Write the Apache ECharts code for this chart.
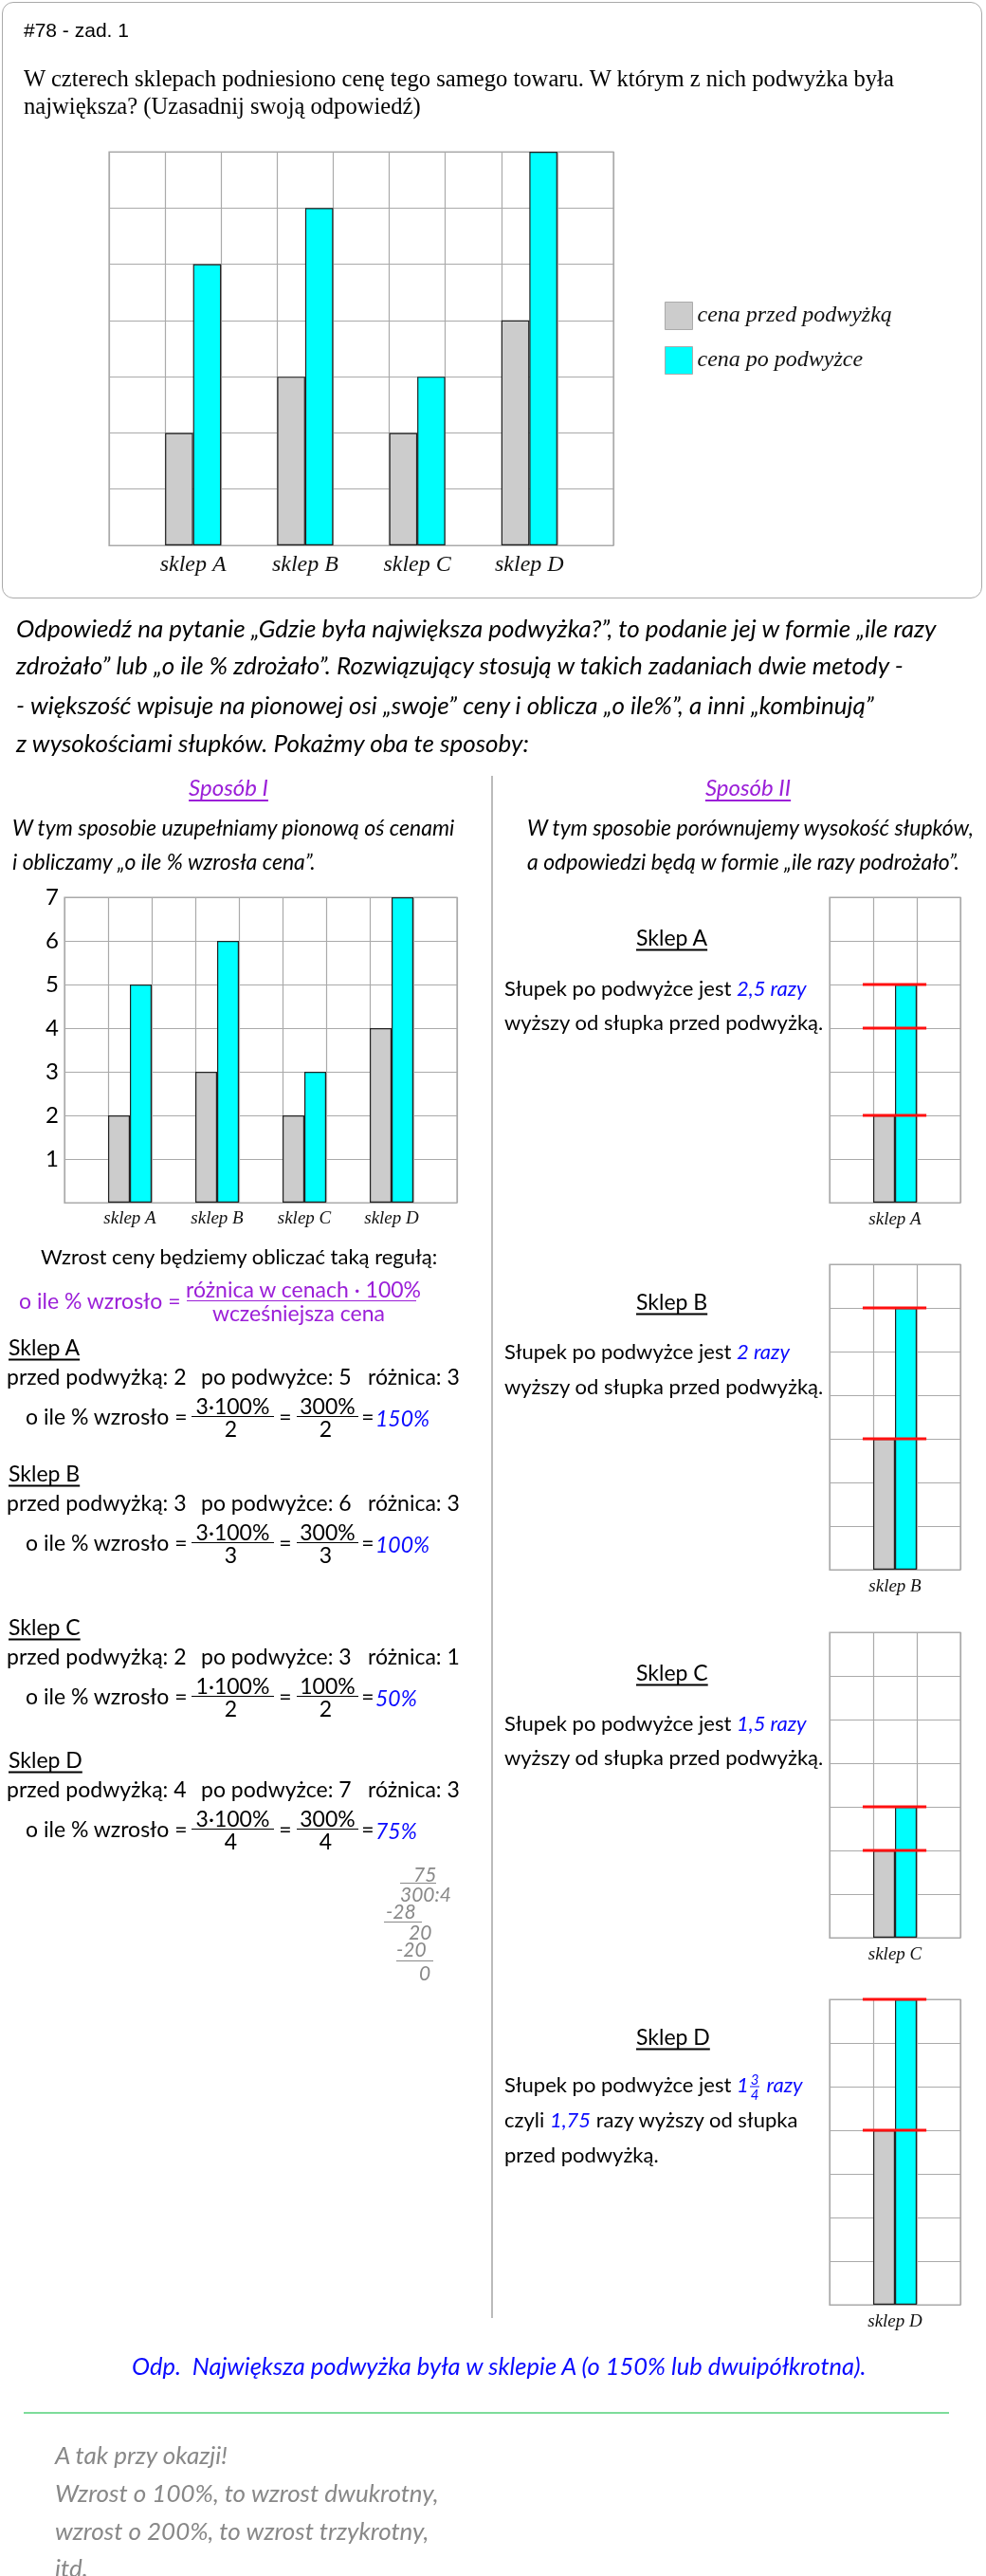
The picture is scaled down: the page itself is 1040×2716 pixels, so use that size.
<!DOCTYPE html>
<html lang="pl">
<head>
<meta charset="utf-8">
<title>#78 - zad. 1</title>
<script src="https://cdn.jsdelivr.net/npm/echarts@6/dist/echarts.min.js"></script>
<style>
  body { margin: 0; background: #fff; }
  .page { position: relative; width: 1040px; height: 2716px; overflow: hidden; }
  #chart { position: absolute; left: 0; top: 0; width: 1040px; height: 2716px; }
  .box { position: absolute; left: 2px; top: 2px; width: 1032px; height: 627px; border: 1.5px solid #aaa; border-radius: 12px; }
  .t { position: absolute; white-space: nowrap; line-height: 1; transform: translateY(-50%); }
  .c { transform: translate(-50%, -50%); }
  .hw { font-family: Lato, 'Noto Sans', sans-serif; font-size: 23px; color: #000; }
  .sm { font-size: 22px; }
  .big { font-size: 26px; }
  .it { font-style: italic; }
  .u { text-decoration: underline; text-underline-offset: 4px; text-decoration-thickness: 1.5px; }
  .blue { color: #0a0aff; }
  .purple { color: #9b1fd8; }
  .gray { color: #888; }
  .div { font-size: 21px; }
  .serif { font-family: 'Liberation Serif', 'Times New Roman', serif; font-size: 24.6px; color: #000; }
  .sans { font-family: 'Liberation Sans', Arial, sans-serif; font-size: 21px; color: #000; }
  .hr { position: absolute; height: 0; border-top: 1.5px solid #000; }
  .vline { position: absolute; left: 518px; top: 818px; width: 0; height: 1626px; border-left: 2px solid #bbb; }
  .green { position: absolute; left: 25px; top: 2543px; width: 976px; height: 0; border-top: 2px solid #7ddc9a; }
  .mf { display: inline-flex; flex-direction: column; align-items: center; font-size: 15px; vertical-align: middle; line-height: 1; margin: 0 2px 0 1px; }
  .mf span:first-child { border-bottom: 1.5px solid #0a0aff; padding: 0 1px; }
</style>
</head>
<body>
<div class="page">
  <div class="box"></div>
  <div id="chart"></div>
  <div id="texts">
    <div class="t sans" style="left:25px;top:31px">#78 - zad. 1</div>
    <div class="t serif" style="left:25px;top:83px">W czterech sklepach podniesiono cenę tego samego towaru. W którym z nich podwyżka była</div>
    <div class="t serif" style="left:25px;top:112px">największa? (Uzasadnij swoją odpowiedź)</div>

    <div class="t hw it big" style="left:17px;top:662px">Odpowiedź na pytanie „Gdzie była największa podwyżka?”, to podanie jej w formie „ile razy</div>
    <div class="t hw it big" style="left:17px;top:701px">zdrożało” lub „o ile % zdrożało”. Rozwiązujący stosują w takich zadaniach dwie metody -</div>
    <div class="t hw it big" style="left:17px;top:743px">- większość wpisuje na pionowej osi „swoje” ceny i oblicza „o ile%”, a inni „kombinują”</div>
    <div class="t hw it big" style="left:17px;top:783px">z wysokościami słupków. Pokażmy oba te sposoby:</div>

    <div class="vline"></div>
    <div class="t c hw it u purple" style="left:241px;top:830px;font-size:24px">Sposób I</div>
    <div class="t c hw it u purple" style="left:789px;top:830px;font-size:24px">Sposób II</div>

    <div class="t hw it" style="left:13px;top:872px">W tym sposobie uzupełniamy pionową oś cenami</div>
    <div class="t hw it" style="left:13px;top:908px">i obliczamy „o ile % wzrosła cena”.</div>
    <div class="t hw it" style="left:556px;top:872px">W tym sposobie porównujemy wysokość słupków,</div>
    <div class="t hw it" style="left:556px;top:908px">a odpowiedzi będą w formie „ile razy podrożało”.</div>

    <div class="t hw sm" style="left:43px;top:1325px">Wzrost ceny będziemy obliczać taką regułą:</div>
    <div class="t hw purple" style="left:20px;top:1371px">o ile % wzrosło =</div>
    <div class="t c hw purple" style="left:320px;top:1359px">różnica w cenach · 100%</div>
    <div class="hr" style="left:197px;top:1371px;width:242px;border-color:#9b1fd8"></div>
    <div class="t c hw purple" style="left:315px;top:1384px">wcześniejsza cena</div>

    <div class="t hw gray it div" style="left:436px;top:1975px">75</div>
    <div class="hr" style="left:422px;top:1985px;width:38px;border-color:#888"></div>
    <div class="t hw gray it div" style="left:422px;top:1996px">300:4</div>
    <div class="t hw gray it div" style="left:407px;top:2014px">-28</div>
    <div class="hr" style="left:405px;top:2026px;width:40px;border-color:#888"></div>
    <div class="t hw gray it div" style="left:431px;top:2036px">20</div>
    <div class="t hw gray it div" style="left:418px;top:2054px">-20</div>
    <div class="hr" style="left:418px;top:2067px;width:39px;border-color:#888"></div>
    <div class="t c hw gray it div" style="left:448px;top:2079px">0</div>

    <div class="t hw u" style="left:671px;top:988px">Sklep A</div>
    <div class="t hw sm" style="left:532px;top:1042px">Słupek po podwyżce jest <span class="blue it">2,5 razy</span></div>
    <div class="t hw sm" style="left:532px;top:1078px">wyższy od słupka przed podwyżką.</div>

    <div class="t hw u" style="left:671px;top:1372px">Sklep B</div>
    <div class="t hw sm" style="left:532px;top:1425px">Słupek po podwyżce jest <span class="blue it">2 razy</span></div>
    <div class="t hw sm" style="left:532px;top:1462px">wyższy od słupka przed podwyżką.</div>

    <div class="t hw u" style="left:671px;top:1763px">Sklep C</div>
    <div class="t hw sm" style="left:532px;top:1817px">Słupek po podwyżce jest <span class="blue it">1,5 razy</span></div>
    <div class="t hw sm" style="left:532px;top:1853px">wyższy od słupka przed podwyżką.</div>

    <div class="t hw u" style="left:671px;top:2147px">Sklep D</div>
    <div class="t hw sm" style="left:532px;top:2200px">Słupek po podwyżce jest <span class="blue it">1<span class="mf"><span>3</span><span>4</span></span> razy</span></div>
    <div class="t hw sm" style="left:532px;top:2235px">czyli <span class="blue it">1,75</span> razy wyższy od słupka</div>
    <div class="t hw sm" style="left:532px;top:2272px">przed podwyżką.</div>

    <div class="t hw it blue" style="left:139px;top:2495px;font-size:25.5px">Odp.&nbsp; Największa podwyżka była w sklepie A (o 150% lub dwuipółkrotna).</div>
    <div class="green"></div>
    <div class="t hw it gray big" style="left:58px;top:2588px">A tak przy okazji!</div>
    <div class="t hw it gray big" style="left:58px;top:2628px">Wzrost o 100%, to wzrost dwukrotny,</div>
    <div class="t hw it gray big" style="left:58px;top:2668px">wzrost o 200%, to wzrost trzykrotny,</div>
    <div class="t hw it gray big" style="left:58px;top:2707px">itd.</div>
  </div>
</div>

<script>
// data
const shops = ['sklep A', 'sklep B', 'sklep C', 'sklep D'];
const before = [2, 3, 2, 4];
const after = [5, 6, 3, 7];
const redMarks = [[2, 4, 5], [3, 6], [2, 3], [4, 7]];
const yLabels = ['', '1', '2', '3', '4', '5', '6', '7'];

const S_BEFORE = 'cena przed podwyżką';
const S_AFTER = 'cena po podwyżce';
const SERIF = "'Liberation Serif', 'Times New Roman', serif";
const HAND = "Lato, 'Noto Sans', sans-serif";
const GRID_COLOR = '#aaaaaa';

// layout of the six plots: top task chart, Sposób I chart, four small charts
const plots = [
  { left: 115, top: 160, width: 532, height: 415, font: 24, margin: 9, yLabels: false },
  { left: 68, top: 946, width: 414, height: 322, font: 19, margin: 7, yLabels: true },
  { left: 875, top: 946, width: 138, height: 322, font: 19, margin: 8, shop: 0 },
  { left: 875, top: 1333, width: 138, height: 322, font: 19, margin: 8, shop: 1 },
  { left: 875, top: 1721, width: 138, height: 322, font: 19, margin: 8, shop: 2 },
  { left: 875, top: 2108, width: 138, height: 322, font: 19, margin: 8, shop: 3 }
];

// every shop sits in every second column of the squared grid
const wideSlots = shops.flatMap(s => ['', s]).concat(['']);
const pad = arr => arr.flatMap(v => [null, v]).concat([null]);

const grid = [], xAxis = [], yAxis = [], series = [];

plots.forEach((p, g) => {
  const single = p.shop !== undefined;
  const slots = single ? ['', shops[p.shop], ''] : wideSlots;
  const bData = single ? [null, before[p.shop], null] : pad(before);
  const aData = single ? [null, after[p.shop], null] : pad(after);

  grid.push({ left: p.left, top: p.top, width: p.width, height: p.height,
    show: true, borderColor: GRID_COLOR, borderWidth: 1.2, containLabel: false });

  xAxis.push({
    type: 'category', gridIndex: g, data: slots, boundaryGap: true,
    axisLine: { lineStyle: { color: GRID_COLOR, width: 1.2 } },
    axisTick: { show: false },
    splitLine: { show: true, interval: 0, lineStyle: { color: GRID_COLOR, width: 1.2 } },
    axisLabel: { interval: 0, margin: p.margin, color: '#111',
      fontFamily: SERIF, fontStyle: 'italic', fontSize: p.font }
  });

  yAxis.push({
    type: 'value', gridIndex: g, min: 0, max: 7, interval: 1,
    axisLine: { show: false }, axisTick: { show: false },
    splitLine: { show: true, lineStyle: { color: GRID_COLOR, width: 1.2 } },
    axisLabel: { show: !!p.yLabels, margin: 6, color: '#000',
      fontFamily: HAND, fontSize: 24, formatter: v => yLabels[v] || '' }
  });

  const barStyle = color => ({ color: color, borderColor: '#222', borderWidth: 1.2 });
  series.push({
    name: S_BEFORE, type: 'bar', xAxisIndex: g, yAxisIndex: g, data: bData,
    barGap: '0%', barCategoryGap: '0%', itemStyle: barStyle('#cccccc')
  });
  series.push({
    name: S_AFTER, type: 'bar', xAxisIndex: g, yAxisIndex: g, data: aData,
    barGap: '0%', barCategoryGap: '0%', itemStyle: barStyle('#00ffff')
  });

  if (single) {
    series.push({
      name: 'porównanie', type: 'custom', xAxisIndex: g, yAxisIndex: g, z: 5,
      data: redMarks[p.shop].map(v => [shops[p.shop], v]),
      renderItem: (params, api) => {
        const c = api.coord([api.value(0), api.value(1)]);
        const w = api.size([1, 0])[0];
        return {
          type: 'line',
          shape: { x1: c[0] - 0.74 * w, y1: c[1], x2: c[0] + 0.72 * w, y2: c[1] },
          style: { stroke: '#ff1010', lineWidth: 3 }
        };
      }
    });
  }
});

const chart = echarts.init(document.getElementById('chart'), null, { renderer: 'canvas' });
chart.setOption({
  animation: false,
  grid, xAxis, yAxis, series,
  legend: {
    data: [S_BEFORE, S_AFTER], selectedMode: false,
    orient: 'vertical', left: 696, top: 313,
    icon: 'rect', itemWidth: 29, itemHeight: 29, itemGap: 17,
    itemStyle: { borderColor: '#aaa', borderWidth: 1 },
    textStyle: { fontFamily: SERIF, fontStyle: 'italic', fontSize: 24, color: '#111' }
  }
});

// calculations of Sposób I, built from the same numbers
const texts = document.getElementById('texts');
const add = (s, x, y, cls, center) => {
  const d = document.createElement('div');
  d.className = 't hw ' + (cls || '') + (center ? ' c' : '');
  d.style.left = x + 'px';
  d.style.top = y + 'px';
  d.textContent = s;
  texts.appendChild(d);
};
const frac = (num, den, x1, x2, y) => {
  const cx = (x1 + x2) / 2;
  add(num, cx, y - 11, '', true);
  const h = document.createElement('div');
  h.className = 'hr';
  h.style.left = x1 + 'px';
  h.style.top = y + 'px';
  h.style.width = (x2 - x1) + 'px';
  texts.appendChild(h);
  add(den, cx - 2, y + 13, '', true);
};

const calcTop = [1420, 1553, 1715, 1855];
shops.forEach((s, i) => {
  const y = calcTop[i], b = before[i], a = after[i], d = a - b;
  add('S' + s.slice(1), 9, y, 'u');
  add('przed podwyżką: ' + b, 7, y + 31);
  add('po podwyżce: ' + a, 212, y + 31);
  add('różnica: ' + d, 388, y + 31);
  const ly = y + 73;
  add('o ile % wzrosło =', 27, ly);
  frac(d + '·100%', String(b), 202, 289, ly);
  add('=', 301, ly, '', true);
  frac(d * 100 + '%', String(b), 313, 378, ly);
  add('=', 388, ly, '', true);
  add(d * 100 / b + '%', 396, ly + 2, 'blue it');
});
</script>
</body>
</html>
